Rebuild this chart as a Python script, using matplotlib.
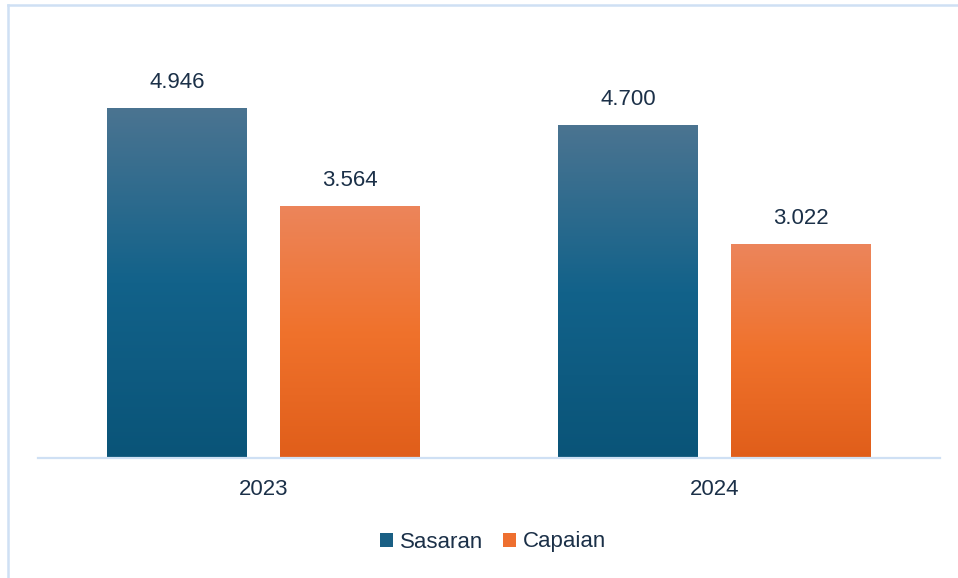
import numpy as np
import matplotlib.pyplot as plt
from matplotlib.colors import LinearSegmentedColormap
from matplotlib.patches import Patch

years = ["2023", "2024"]
sasaran = [4.946, 4.700]
capaian = [3.564, 3.022]
value_labels_sasaran = ["4.946", "4.700"]
value_labels_capaian = ["3.564", "3.022"]

text_color = "#1b3048"
line_color = "#cfe0f4"

plt.rcParams['font.family'] = ['Liberation Sans', 'DejaVu Sans']

fig = plt.figure(figsize=(9.58, 5.78), dpi=100)
ax = fig.add_axes([38 / 958, 120 / 578, 902 / 958, 424.6 / 578])

x = np.arange(len(years))
w = 0.31
off = 0.192

b1 = ax.bar(x - off, sasaran, w, color="none")
b2 = ax.bar(x + off, capaian, w, color="none")

blue = LinearSegmentedColormap.from_list("b", ["#0a5478", "#12628a", "#4b7491"])
orange = LinearSegmentedColormap.from_list("o", ["#e05e1a", "#f0722c", "#ec855b"])

grad = np.linspace(0, 1, 256).reshape(-1, 1)
for bars, cmap in [(b1, blue), (b2, orange)]:
    for p in bars:
        x0, y0 = p.get_x(), p.get_y()
        im = ax.imshow(grad, cmap=cmap, origin="lower", aspect="auto",
                       extent=[x0, x0 + p.get_width(), y0, y0 + p.get_height()], zorder=2)
        im.set_clip_path(p)

ax.bar_label(b1, labels=value_labels_sasaran, padding=11, fontsize=16, color=text_color)
ax.bar_label(b2, labels=value_labels_capaian, padding=11, fontsize=16, color=text_color)

ax.set_xlim(-0.5, 1.5)
ax.set_ylim(0, 6)
ax.set_xticks(x)
ax.set_xticklabels(years, fontsize=16, color=text_color)
ax.tick_params(axis="x", length=0, pad=15)
ax.set_yticks([])
for s in ["top", "right", "left"]:
    ax.spines[s].set_visible(False)
ax.spines["bottom"].set_color(line_color)
ax.spines["bottom"].set_linewidth(1.6)
ax.set_zorder(1)

handles = [Patch(facecolor="#1a5f84", label="Sasaran"),
           Patch(facecolor="#ee6f2f", label="Capaian")]
fig.legend(handles=handles, loc="center", bbox_to_anchor=(493 / 958, 1 - 542 / 578), ncol=2,
           frameon=False, fontsize=16, labelcolor=text_color, handlelength=0.6,
           handleheight=0.6, handletextpad=0.3, columnspacing=0.9)

# frame lines on top and left of the picture
fig.add_artist(plt.Line2D([8 / 958, 8 / 958], [0, 1 - 5 / 578], color=line_color, lw=1.8))
fig.add_artist(plt.Line2D([8 / 958, 1], [1 - 5 / 578, 1 - 5 / 578], color=line_color, lw=1.8))

fig.savefig("out.png", dpi=100)
